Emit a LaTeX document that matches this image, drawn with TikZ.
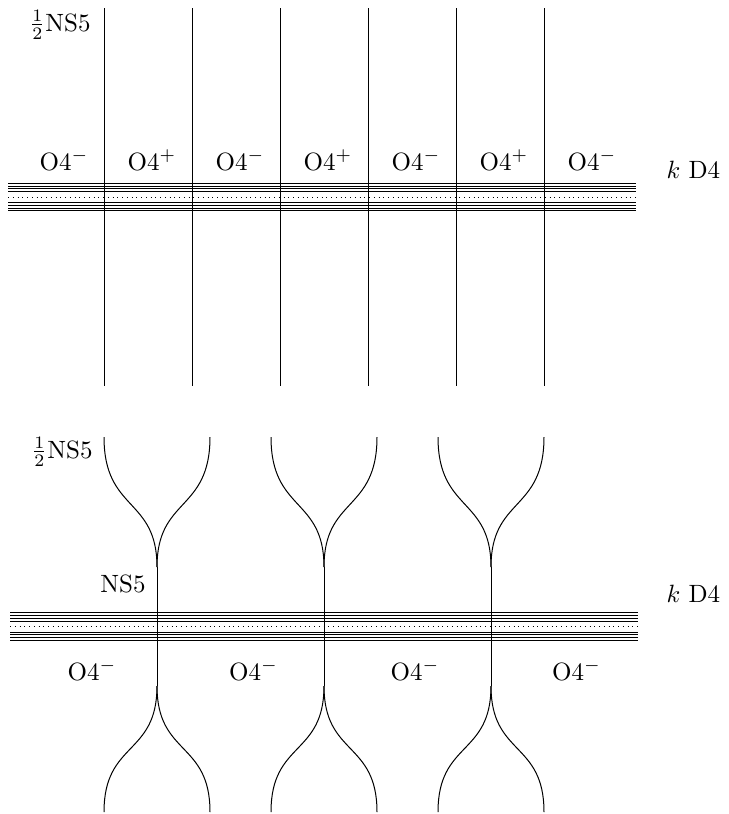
\documentclass[tikz,border=0pt]{standalone}
\usepackage{amsmath}
\usepackage{amssymb}
\usepackage{tikz}
\usetikzlibrary{calc}

\begin{document}
\begin{tikzpicture}[x=0.4pt,y=-0.4pt]
	\tikzstyle{lab}=[inner sep=0pt, anchor=base]
	\tikzstyle{dotd}=[dash pattern=on 0.4pt off 1.5pt]
	\useasboundingbox (0,0) rectangle (728,814);

	% upper picture: half NS5 branes on the D4 stack
	\foreach \i in {0,...,5} {
		\coordinate (ta\i) at (104+88*\i,8);
		\coordinate (tb\i) at (104+88*\i,386);
		\draw (ta\i) -- (tb\i);
	}
	\coordinate (TL) at (8,197);
	\coordinate (TR) at (636,197);
	\foreach \d in {5.5,8.3,11,13.8} {
		\draw ($(TL)+(0,\d)$) -- ($(TR)+(0,\d)$);
		\draw ($(TL)-(0,\d)$) -- ($(TR)-(0,\d)$);
	}
	\draw[dotd] (TL) -- (TR);
	\foreach \i/\s in {0/-,1/+,2/-,3/+,4/-,5/+,6/-}
		\node[lab] (to\i) at (64+88*\i,170) {O4$^{\s}$};
	\node[lab] (thalf) at (60,31) {$\frac{1}{2}$NS5};
	\node[lab, anchor=base west] (tk) at (666,178) {$k$ D4};

	% lower picture: pairs joined into full NS5 branes
	\foreach \i/\x in {0/157,1/324,2/491} {
		\coordinate (bm\i) at (\x,567);
		\coordinate (bn\i) at (\x,686);
		\draw (\x-53,437) .. controls (\x-53,512) and (\x,497) .. (bm\i);
		\draw (\x+53,437) .. controls (\x+53,512) and (\x,497) .. (bm\i);
		\draw (bm\i) -- (bn\i);
		\draw (bn\i) .. controls (\x,756) and (\x-53,741) .. (\x-53,812);
		\draw (bn\i) .. controls (\x,756) and (\x+53,741) .. (\x+53,812);
	}
	\coordinate (BL) at (10,626.5);
	\coordinate (BR) at (638,626.5);
	\foreach \d in {5.5,8.3,11,13.8} {
		\draw ($(BL)+(0,\d)$) -- ($(BR)+(0,\d)$);
		\draw ($(BL)-(0,\d)$) -- ($(BR)-(0,\d)$);
	}
	\draw[dotd] (BL) -- (BR);
	\foreach \i in {0,...,3}
		\node[lab] (bo\i) at (92+161.5*\i,680) {O4$^{-}$};
	\node[lab] (bhalf) at (62,458) {$\frac{1}{2}$NS5};
	\node[lab, anchor=base east] (bns) at (146,592) {NS5};
	\node[lab, anchor=base west] (bk) at (666,602) {$k$ D4};
\end{tikzpicture}
\end{document}
